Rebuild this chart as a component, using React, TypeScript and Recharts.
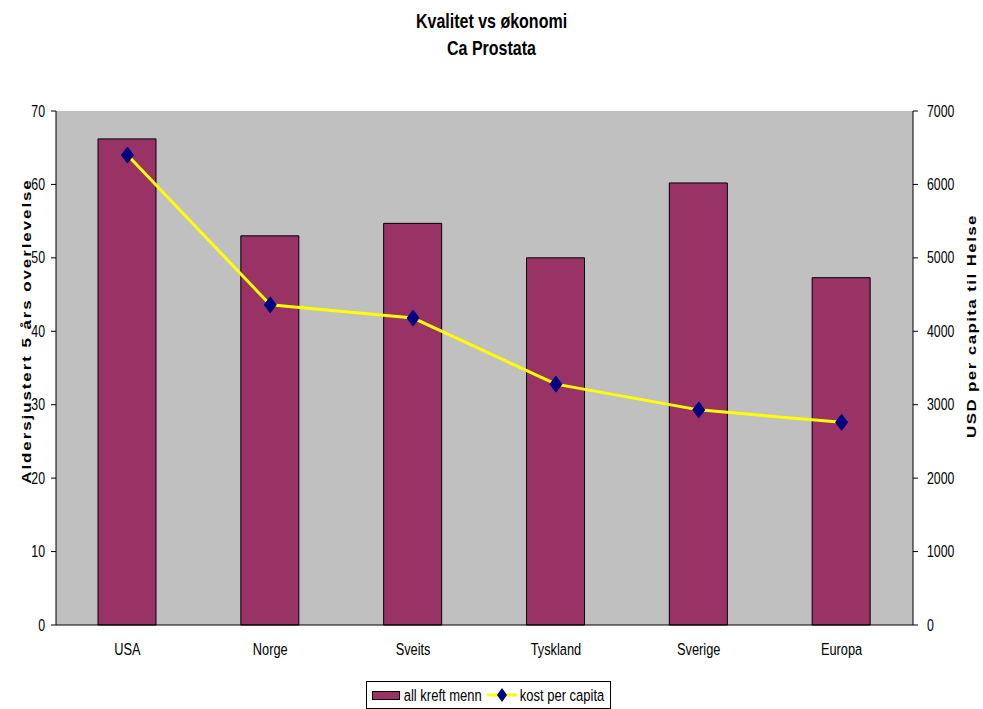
import React from 'react';
import { ComposedChart, Bar, Line, XAxis, YAxis, CartesianGrid, Legend } from 'recharts';

const categories = ['USA', 'Norge', 'Sveits', 'Tyskland', 'Sverige', 'Europa'];
const survival = [66.2, 53.0, 54.7, 50.0, 60.2, 47.3];
const costPerCapita = [6400, 4360, 4180, 3280, 2930, 2760];
const leftTicks = [0, 10, 20, 30, 40, 50, 60, 70];
const rightTicks = [0, 1000, 2000, 3000, 4000, 5000, 6000, 7000];
const boundaryTicks = [0, 1, 2, 3, 4, 5, 6];

const data = categories.map((name, i) => ({
  name,
  idx: i + 0.5,
  survival: survival[i],
  cost: costPerCapita[i],
}));

const FONT = '"Liberation Sans", Arial, sans-serif';
const BAR_COLOR = '#993366';
const LINE_COLOR = '#FFFF00';
const DOT_COLOR = '#000080';
const STRETCH = 1.3;

const Diamond = (props: any) => {
  const { cx, cy } = props;
  if (cx == null || cy == null) return null;
  return (
    <polygon
      points={`${cx},${cy - 8} ${cx + 6},${cy} ${cx},${cy + 8} ${cx - 6},${cy}`}
      fill={DOT_COLOR}
      stroke={DOT_COLOR}
    />
  );
};

const YTick = (props: any) => {
  const { x, y, payload, textAnchor } = props;
  return (
    <text
      x={x}
      y={y}
      textAnchor={textAnchor}
      dominantBaseline="central"
      fontFamily={FONT}
      fontSize={12.3}
      fill="#000"
      transform={`translate(0 ${y}) scale(1 ${STRETCH}) translate(0 ${-y})`}
    >
      {payload.value}
    </text>
  );
};

const XTick = (props: any) => {
  const { x, y, payload } = props;
  return (
    <text
      x={x}
      y={y}
      dy="0.71em"
      textAnchor="middle"
      fontFamily={FONT}
      fontSize={12.8}
      fill="#000"
      transform={`translate(0 ${y}) scale(1 ${STRETCH}) translate(0 ${-y})`}
    >
      {payload.value}
    </text>
  );
};

const stretchSpan: React.CSSProperties = {
  display: 'inline-block',
  transform: `scaleY(${STRETCH})`,
  whiteSpace: 'nowrap',
};

const renderLegend = () => (
  <div style={{ textAlign: 'center' }}>
    <div
      style={{
        display: 'inline-flex',
        alignItems: 'center',
        boxSizing: 'border-box',
        height: 28,
        marginLeft: -6,
        border: '1px solid #000',
        background: '#fff',
        padding: '0 6px 0 5px',
        fontFamily: FONT,
        fontSize: 13,
        color: '#000',
      }}
    >
      <svg width={28} height={9} style={{ display: 'block' }}>
        <rect x={0.5} y={0.5} width={27} height={8} fill={BAR_COLOR} stroke="#000" />
      </svg>
      <span style={{ ...stretchSpan, marginLeft: 4, marginRight: 5 }}>all kreft menn</span>
      <svg width={30} height={18} style={{ display: 'block' }}>
        <line x1={0} y1={9} x2={30} y2={9} stroke={LINE_COLOR} strokeWidth={3} />
        <polygon points="15,2 20,9 15,16 10,9" fill={DOT_COLOR} />
      </svg>
      <span style={{ ...stretchSpan, marginLeft: 3 }}>kost per capita</span>
    </div>
  </div>
);

const leftLabel = () => (
  <text
    x={0}
    y={0}
    transform={`translate(26 331) rotate(-90) scale(${STRETCH} 1)`}
    textAnchor="middle"
    dominantBaseline="central"
    fontFamily={FONT}
    fontSize={13}
    fontWeight="bold"
    letterSpacing={1.5}
    fill="#000"
  >
    Aldersjustert 5 års overlevelse
  </text>
);

const rightLabel = () => (
  <text
    x={0}
    y={0}
    transform={`translate(971 326) rotate(-90) scale(${STRETCH} 1)`}
    textAnchor="middle"
    dominantBaseline="central"
    fontFamily={FONT}
    fontSize={13}
    fontWeight="bold"
    letterSpacing={1.1}
    fill="#000"
  >
    USD per capita til Helse
  </text>
);

const titleLine = (text: string, center: number) => (
  <div
    style={{
      position: 'absolute',
      left: 0,
      top: center - 13,
      width: 983,
      height: 26,
      lineHeight: '26px',
      textAlign: 'center',
      fontFamily: FONT,
      fontWeight: 'bold',
      fontSize: 16,
      color: '#000',
      transform: `scaleY(${STRETCH})`,
      transformOrigin: 'center center',
      zIndex: 2,
    }}
  >
    {text}
  </div>
);

export default function App() {
  return (
    <div style={{ position: 'absolute', left: 0, top: 0, width: 983, height: 709, background: '#fff' }}>
      {titleLine('Kvalitet vs økonomi', 21)}
      {titleLine('Ca Prostata', 48)}
      <ComposedChart
        width={983}
        height={709}
        data={data}
        margin={{ top: 111, right: 0, bottom: 0, left: 0 }}
      >
        <CartesianGrid
          xAxisId="cat"
          yAxisId="left"
          fill="#C0C0C0"
          horizontal={false}
          vertical={false}
          stroke="none"
        />
        <XAxis
          xAxisId="grid"
          type="number"
          dataKey="idx"
          domain={[0, 6]}
          ticks={boundaryTicks}
          allowDataOverflow
          height={0}
          axisLine={false}
          tickLine={{ stroke: '#000' }}
          tickSize={5}
          tick={() => <g />}
        />
        <XAxis
          xAxisId="cat"
          dataKey="name"
          height={56}
          axisLine={{ stroke: '#000' }}
          tickLine={false}
          tickSize={0}
          tickMargin={18}
          tick={<XTick />}
          interval={0}
        />
        <YAxis
          yAxisId="left"
          orientation="left"
          width={56}
          domain={[0, 70]}
          ticks={leftTicks}
          axisLine={{ stroke: '#000' }}
          tickLine={{ stroke: '#000' }}
          tickSize={5}
          tickMargin={6}
          tick={<YTick />}
          label={leftLabel}
        />
        <YAxis
          yAxisId="right"
          orientation="right"
          width={70}
          domain={[0, 7000]}
          ticks={rightTicks}
          axisLine={{ stroke: '#000' }}
          tickLine={{ stroke: '#000' }}
          tickSize={5}
          tickMargin={9}
          tick={<YTick />}
          label={rightLabel}
        />
        <Bar
          xAxisId="cat"
          yAxisId="left"
          dataKey="survival"
          name="all kreft menn"
          fill={BAR_COLOR}
          stroke="#000"
          strokeWidth={1}
          barSize={58}
          isAnimationActive={false}
        />
        <Line
          xAxisId="cat"
          yAxisId="right"
          type="linear"
          dataKey="cost"
          name="kost per capita"
          stroke={LINE_COLOR}
          strokeWidth={3}
          dot={<Diamond />}
          activeDot={false}
          isAnimationActive={false}
        />
        <Legend verticalAlign="bottom" align="center" content={renderLegend} />
      </ComposedChart>
    </div>
  );
}
